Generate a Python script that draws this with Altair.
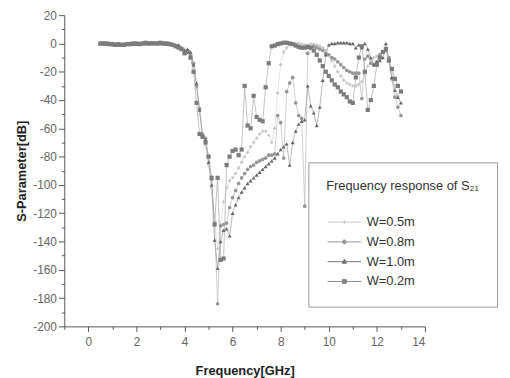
import altair as alt
import pandas as pd

# frequency grid (GHz), 101 samples from 0.5 to 13
freq = [round(0.5 + 0.125 * i, 3) for i in range(101)]

series_names = ["W=0.5m", "W=0.8m", "W=1.0m", "W=0.2m"]

w05 = [0, 0, 0, -0.5, 0, -0.5, -1, -0.5, -0.5, 0, -0.5, -1, -0.5, 0, 0, -0.5, 0, 0, 0.5, 0, 0, -0.5, 0, 0, -0.5, -1,
       -2, -3, -4, -6, -10, -17,
       -32, -50, -66, -72, -86, -102, -125, -145, -128, -112, -102, -97,
       -95, -92, -88, -84, -80, -77, -73, -70, -67, -64, -62, -62, -65, -70,
       -60, -35, -15, -6, -3, -1, -0.5, 0, 0, -0.5, -1, -1, -0.5, -0.5, -1, -2,
       -3, -5, -8, -12, -16, -20, -23, -26, -28, -29, -30, -30, -29, -27, -22, -16, -12, -10, -9, -8, -6, -5,
       -10, -20, -30, -37, -42]

w08 = [0, -0.5, 0, 0, -1, -0.5, -1, -1, -0.5, -0.5, 0, -0.5, -0.5, -0.5, 0, 0, 0.5, 0, 0, 0.5, 0, 0, -0.5, 0, -1, -1.5,
       -2, -4, -6, -5, -8, -14,
       -30, -46, -64, -67, -80, -96, -127, -184, -129, -128, -127,
       -116, -109, -104, -99, -95, -92, -89, -87, -86, -84, -83, -82, -81, -79, -79, -78,
       -51, -56, -81, -34, -28, -24, -42, -51, -53, -115, -7, -3,
       -2, -3, -4, -5, -7, -8, -10, -11, -13, -15, -17, -19, -20, -21, -21, -21,
       -39, -11, -9, -14, -15, -13, -8, -6, -5, -10, -25, -38, -45, -51]

w10 = [0, 0, -0.5, 0, 0, -1, -1, -0.5, -0.5, -0.5, 0, 0, -0.5, 0, 0, 0, 0, 0.5, 0.5, 0, 0, 0, -0.5, 0, -0.5, -1,
       -1, -3, -5, -4, -6, -15,
       -28, -47, -65, -68, -84, -100, -139, -159, -140, -132, -131, -136,
       -120, -114, -109, -105, -102, -99, -97, -95, -93, -91, -89, -87, -85, -83, -81, -78, -75, -73, -71,
       -86, -70, -62, -57, -55, -54, -30, -44, -49, -58, -45, -26, -8, -1,
       0, 0, 0.5, 0.5, 0.5, 0.5, 0, 0, -3, -1, -3, 0, -4, -10, -15, -13, -12, -10, 0, -12, -24, -33, -38, -42]

w02 = [0, 0, 0, -0.5, -0.5, -1, -0.5, -1, -1, -0.5, -0.5, 0, 0, -0.5, 0, 0.5, 0, 0, 0, 0, 0.5, 0, 0, -0.5, -1, -2,
       -3, -4, -7, -6, -10, -20,
       -42, -64, -66, -70, -80, -95, -128, -95, -153, -152,
       -86, -80, -76, -75, -79, -75, -30, -58, -60, -37, -52, -54, -55, -31, -14, -2,
       -1.5, -0.5, 0, 0.5, 0.5, 0, -0.5, -1.5, -2.5, -3, -3, -2.5, -3,
       -5, -8, -12, -16, -20, -23, -26, -29, -31, -34, -36, -38, -41, -42,
       -24, -10, -2, -20, -47, -40, -30, -15, -10, -6, -4, -12, -18, -25, -30, -34]

marker_colors = ["#c8c8c8", "#979797", "#666666", "#7c7c7c"]
line_colors = ["#dadada", "#bbbbbb", "#999999", "#a8a8a8"]
shapes = ["cross", "circle", "triangle-up", "square"]
marker_sizes = [12, 18, 24, 16]
legend_paths = [
    "M-1,0H5.8M2.4,-0.35V0.35M2.05,0H2.75",
    "M-1,0H5.8M2.8,0A0.4,0.4,0,1,1,2.0,0A0.4,0.4,0,1,1,2.8,0Z",
    "M-1,0H5.8M2.4,-0.5L2.85,0.32L1.95,0.32Z",
    "M-1,0H5.8M2.0,-0.4H2.8V0.4H2.0Z",
]
legend_strokes = ["#cccccc", "#999999", "#777777", "#888888"]

rows = []
for name, vals in zip(series_names, [w05, w08, w10, w02]):
    for f, v in zip(freq, vals):
        rows.append({"series": name, "freq": f, "value": v})
df = pd.DataFrame(rows)

FONT = "Liberation Sans"

x = alt.X(
    "freq:Q",
    title="Frequency[GHz]",
    scale=alt.Scale(domain=[-1, 14], nice=False, zero=False),
    axis=alt.Axis(
        values=list(range(-1, 15)),
        labelExpr="datum.value % 2 === 0 ? '' + datum.value : ''",
        tickSize={"condition": {"test": "datum.value % 2 === 0", "value": 5}, "value": 3},
        grid=False, domainColor="#555", tickColor="#555", labelColor="#666",
        labelFontSize=12, labelFont=FONT, labelPadding=5,
        titleFont=FONT, titleFontSize=13, titleFontWeight="bold", titleColor="#222",
        titlePadding=18,
    ),
)
y = alt.Y(
    "value:Q",
    title="S-Parameter[dB]",
    scale=alt.Scale(domain=[-200, 20], nice=False, zero=False),
    axis=alt.Axis(
        values=list(range(-200, 21, 10)),
        labelExpr="datum.value % 20 === 0 ? '' + datum.value : ''",
        tickSize={"condition": {"test": "datum.value % 20 === 0", "value": 6}, "value": 3},
        grid=False, domainColor="#555", tickColor="#555", labelColor="#666",
        labelFontSize=12, labelFont=FONT, labelPadding=2,
        titleFont=FONT, titleFontSize=13, titleFontWeight="bold", titleColor="#222",
        titlePadding=4,
    ),
)

lines = alt.Chart(df).mark_line(strokeWidth=0.7).encode(
    x=x, y=y,
    color=alt.Color("series:N", scale=alt.Scale(domain=series_names, range=line_colors), legend=None),
)

points = alt.Chart(df).mark_point(filled=True, opacity=1).encode(
    x=x, y=y,
    color=alt.Color("series:N", scale=alt.Scale(domain=series_names, range=marker_colors), legend=None),
    shape=alt.Shape("series:N", scale=alt.Scale(domain=series_names, range=shapes), legend=None),
    size=alt.Size("series:N", scale=alt.Scale(domain=series_names, range=marker_sizes), legend=None),
)

leg = alt.Legend(
    title="Frequency response of S₂₁", orient="none", legendX=247, legendY=149,
    fillColor="white", strokeColor="#999", padding=18,
    titleFont=FONT, titleFontSize=13, titleFontWeight="normal", titleColor="#333", titlePadding=23,
    labelFont=FONT, labelFontSize=13, labelColor="#333", labelOffset=28,
    rowPadding=6, symbolStrokeWidth=1,
)

legend_layer = alt.Chart(df).transform_filter("false").mark_point(filled=True, size=100, strokeWidth=1, opacity=1).encode(
    color=alt.Color("series:N", scale=alt.Scale(domain=series_names, range=marker_colors), legend=leg),
    stroke=alt.Stroke("series:N", scale=alt.Scale(domain=series_names, range=legend_strokes), legend=leg),
    shape=alt.Shape("series:N", scale=alt.Scale(domain=series_names, range=legend_paths), legend=leg),
)

chart = alt.layer(lines, points, legend_layer).resolve_scale(
    color="independent", shape="independent", stroke="independent", size="independent"
).properties(
    width=365, height=315,
    autosize=alt.AutoSizeParams(type="none"),
    padding={"left": 57, "top": 5, "right": 78, "bottom": 50},
).configure(font=FONT).configure_view(stroke=None)

chart.save("out.html", embed_options={"renderer": "svg", "actions": False})
